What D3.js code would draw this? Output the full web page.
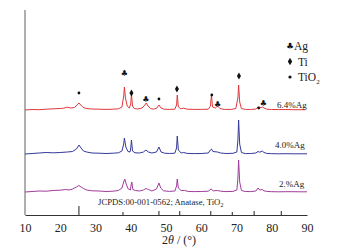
<!DOCTYPE html>
<html>
<head>
<meta charset="utf-8">
<script src="https://cdn.jsdelivr.net/npm/d3@7"></script>
<style>
  body { margin: 0; background: #fff; }
  text { font-family: "Liberation Serif", "Times New Roman", serif; }
</style>
</head>
<body>
<div id="chart"></div>
<script>
// XRD patterns, [2theta, intensity above own baseline]
var xTicks = [10, 20, 30, 40, 50, 60, 70, 80, 90]
var seriesNames = ["2.%Ag", "4.0%Ag", "6.4%Ag"]
var seriesColors = ["#a03c9c", "#34399a", "#e0383c"]
var seriesOffsets = [23, 61, 105]

var purple = [[10,0],[12,0.5],[14,1],[16,0.8],[18,1.5],[20,1.8],[21.5,2.5],[22.5,2],[23.5,3],[24.6,5],[25.3,6.5],[25.9,5],[26.6,3.5],[27.5,2],[29,1.2],[31,1],[33,0.5],[35,0.8],[36.5,1.5],[37.5,4],[38.0,10],[38.3,13],[38.7,8],[39.3,3],[39.9,2],[40.1,7],[40.3,10],[40.6,2.5],[41.3,1.5],[42.5,1],[43.6,2],[44.3,3.5],[45,2.5],[46,1],[47.3,3],[48,9],[48.5,4],[49.3,1.2],[51,0.6],[52.5,1],[53.0,6],[53.2,13],[53.5,4],[54.3,1.5],[55.2,1.5],[56.5,0.5],[58,0.4],[60,0.5],[62,0.8],[62.8,3],[63.4,1.2],[64.6,1.5],[65.5,0.8],[67,0.4],[69,0.6],[70.1,2],[70.4,14],[70.6,32],[70.9,10],[71.4,1.5],[72.5,0.5],[74,0.4],[75.5,1],[76.1,4],[76.6,2],[77.3,2.5],[77.8,1.2],[78.6,0.6],[80,0.3],[82,0.2],[84,0.3],[86,0.3],[88,0.2],[90,0.2]]

var blue = [[10,0],[12,0.5],[14,1],[16,1.5],[18,1.2],[20,1.5],[22,2],[23.5,2.5],[24.6,5],[25.3,9],[25.9,6],[26.6,3],[27.5,2],[29,1],[31,0.8],[33,0.5],[35,0.8],[36.5,1.2],[37.5,3],[38.0,10],[38.2,16],[38.6,7],[39.2,2.5],[39.8,2],[40.0,6],[40.2,14],[40.5,3],[41.2,1.2],[42.5,1],[43.6,2],[44.3,4],[45,2],[46,1],[47.3,2],[48,7],[48.6,2],[49.6,0.8],[51,0.5],[52.5,0.8],[53.0,6],[53.2,18],[53.5,4],[54.3,1],[55,1.5],[56,0.6],[58,0.4],[60,0.5],[62,1],[62.6,4],[62.9,5],[63.3,2.5],[64.6,2],[65.5,1],[67,0.5],[69,0.7],[70.1,2],[70.4,14],[70.6,34],[70.9,10],[71.4,1.5],[72.5,0.4],[74,0.5],[75.5,1],[76.1,2.5],[76.6,1.8],[77.3,3],[77.8,1.5],[78.6,0.6],[80,0.3],[82,0.2],[84,0.3],[86,0.2],[88,0.2],[90,0.2]]

var red = [[10,0],[12,0.5],[14,0.3],[16,0.8],[18,1.2],[20,1.5],[21,1.8],[22,2.8],[23,2],[24,2.5],[24.8,5],[25.3,7],[25.8,5],[26.5,2.5],[27.5,1.5],[29,1],[31,0.8],[33,0.6],[35,0.8],[36.5,1.2],[37.5,3],[38.0,14],[38.2,23],[38.5,12],[39,4],[39.6,2],[40.0,6],[40.2,16],[40.5,4],[41,1.5],[42,1],[43.2,2],[44,5],[44.4,7],[44.9,4],[45.6,1.5],[46.5,0.8],[47.4,2],[48,5],[48.6,2],[49.5,0.8],[51,0.6],[52.5,0.8],[53.0,5],[53.2,15],[53.5,3],[54.2,1.2],[55,1.8],[56,0.8],[58,0.6],[60,0.6],[62,0.8],[62.6,4],[62.9,15],[63.2,3],[64,2],[64.6,4],[65.3,1.5],[66.5,0.6],[68.5,0.6],[69.8,1.5],[70.4,12],[70.6,25],[70.9,8],[71.4,1.5],[72.5,0.6],[74,0.5],[75.5,1],[76.1,3],[76.6,2],[77.3,3],[77.8,2],[78.6,0.8],[80,0.5],[82,0.4],[84,0.5],[86,0.3],[88,0.3],[89.6,0.3]]

// phase markers above the 6.4%Ag pattern: [phase, 2theta, height]
var markers = [["TiO2",25.3,122],["Ag",38.2,142],["Ti",40.2,122],["Ag",44.3,116],["TiO2",48,116],
               ["Ti",53.1,126],["TiO2",63,120],["Ag",64.6,111],["Ti",70.7,139],["TiO2",76.3,107],["Ag",77.6,112]]
var legendPhases = ["Ag", "Ti", "TiO2"]

// JCPDS 00-001-0562 anatase reference lines
var jcpdsAngles = [25.3, 37.8, 48.0, 53.9, 62.7, 68.8, 75.0, 82.7]
var jcpdsHeights = [9, 3, 4, 4, 4, 3, 4, 4]

var width = 337, height = 248
var svg = d3.select("#chart").append("svg")
    .attr("width", width)
    .attr("height", height)

var x = d3.scaleLinear().domain([10, 90]).range([25, 307])
var y = d3.scaleLinear().domain([0, 205]).range([215, 10])

// y axis line only
svg.append("line")
    .attr("x1", x(10)).attr("x2", x(10))
    .attr("y1", y(205)).attr("y2", y(0))
    .style("stroke", "#7a7a7a").style("stroke-width", 1.2)

// x axis
var xAxis = svg.append("g")
    .attr("transform", "translate(0," + y(0) + ")")
    .call(d3.axisBottom(x).tickValues(xTicks).tickSize(0).tickPadding(8))
xAxis.select(".domain").style("stroke", "#333").style("stroke-width", 1.2)
xAxis.selectAll("text")
    .style("font-family", "'Liberation Serif', serif")
    .style("font-size", "12px")
    .style("fill", "#222")

svg.append("text")
    .attr("x", 179).attr("y", 244)
    .attr("text-anchor", "middle")
    .style("font-size", "12px")
    .style("fill", "#222")
    .html('2<tspan font-style="italic">θ</tspan> / (°)')

// JCPDS lines
svg.selectAll(".jcpds")
    .data(jcpdsAngles)
    .enter().append("line")
    .attr("class", "jcpds")
    .attr("x1", function(d){ return x(d) }).attr("x2", function(d){ return x(d) })
    .attr("y1", y(0))
    .attr("y2", function(d, i){ return y(jcpdsHeights[i]) })
    .style("stroke", "#222").style("stroke-width", 1)

var jt = svg.append("text")
    .attr("x", 98).attr("y", 205)
    .style("font-size", "8.7px")
    .style("fill", "#222")
jt.append("tspan").text("JCPDS:00-001-0562; Anatase, TiO")
jt.append("tspan").attr("dy", 2).style("font-size", "6px").text("2")

// patterns
var line = d3.line()
var allSeries = [purple, blue, red]
allSeries.forEach(function(s, i){
    svg.append("path")
        .datum(s)
        .attr("d", line.x(function(d){ return x(d[0]) })
                       .y(function(d){ return y(d[1] + seriesOffsets[i]) }))
        .style("fill", "none")
        .style("stroke", seriesColors[i])
        .style("stroke-width", 1)
})

var labelPos = [[279, 187], [275, 148], [277, 108]]
seriesNames.forEach(function(n, i){
    svg.append("text")
        .attr("x", labelPos[i][0]).attr("y", labelPos[i][1])
        .style("font-size", "9px")
        .style("fill", "#222")
        .text(n)
})

// draws one phase marker centred at (cx, cy)
function drawMarker(g, phase, cx, cy, big){
    if (phase === "Ag") {
        g.append("text")
            .attr("x", cx).attr("y", cy + 3)
            .attr("text-anchor", "middle")
            .style("font-family", "'DejaVu Sans', sans-serif")
            .style("font-size", big ? "8.5px" : "8px")
            .style("fill", "#111")
            .text("\u2663")
    } else if (phase === "Ti") {
        g.append("path")
            .attr("transform", "translate(" + cx + "," + cy + ")")
            .attr("d", d3.symbol().type(d3.symbolDiamond).size(big ? 16 : 14)())
            .style("fill", "#111")
    } else {
        g.append("circle")
            .attr("cx", cx).attr("cy", cy)
            .attr("r", big ? 1.6 : 1.4)
            .style("fill", "#111")
    }
}

markers.forEach(function(m){
    drawMarker(svg, m[0], x(m[1]), y(m[2]), false)
})

// legend
legendPhases.forEach(function(p, i){
    var ly = 46 + i * 15.5
    drawMarker(svg, p, 290, ly, true)
    var t = svg.append("text")
        .attr("x", p === "Ag" ? 294 : 298).attr("y", ly + 4)
        .style("font-size", "11.5px")
        .style("fill", "#222")
    if (p === "TiO2") {
        t.append("tspan").text("TiO")
        t.append("tspan").attr("dy", 3).style("font-size", "7px").text("2")
    } else {
        t.text(p)
    }
})
</script>
</body>
</html>
